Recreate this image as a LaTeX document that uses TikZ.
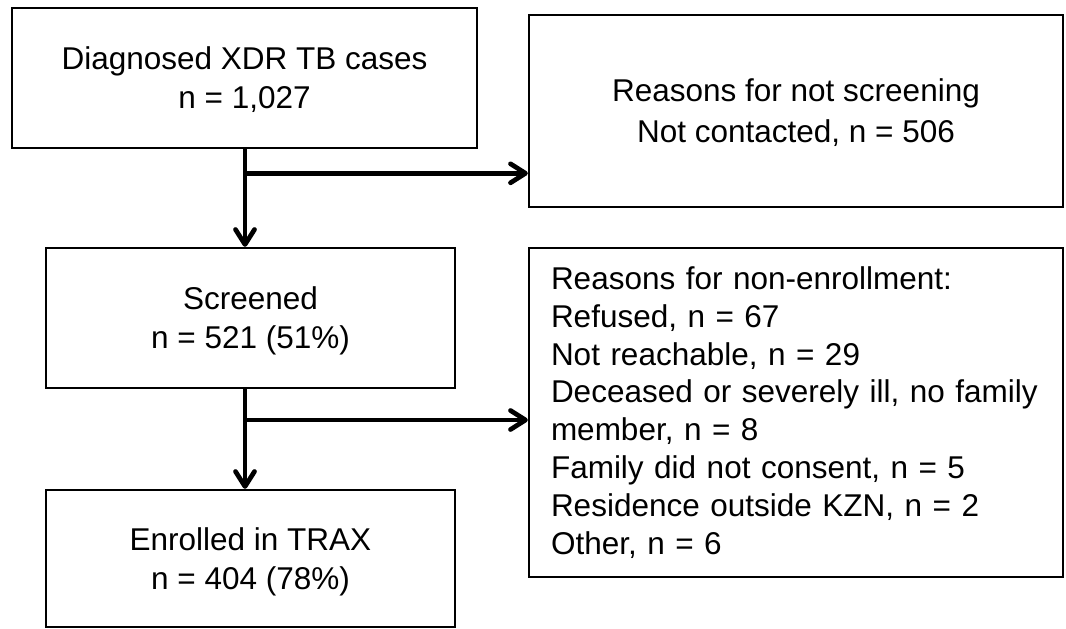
\documentclass[tikz,border=0pt]{standalone}
\usepackage{fontspec}
\setmainfont{Liberation Sans}
\usetikzlibrary{arrows.meta}
\begin{document}
\begin{tikzpicture}[x=1pt,y=-1pt,
  box/.style={draw=black, line width=2.3pt, inner sep=0pt, align=center,
    font=\fontsize{31.5}{39}\selectfont},
  ctr/.style={box, text depth=0pt},
  flow/.style={line width=4.7pt, -{Straight Barb[length=15pt,width=19pt,round]}}]
\useasboundingbox (0,0) rectangle (1066,629);
\node[ctr, minimum width=465pt, minimum height=140pt] (A) at (244.5,78)
  {Diagnosed XDR TB cases\\n = 1,027};
\node[ctr, minimum width=534pt, minimum height=192pt,
  font=\fontsize{31.5}{41}\selectfont] (B) at (796,111)
  {Reasons for not screening\\Not contacted, n = 506};
\node[ctr, minimum width=409pt, minimum height=140pt] (C) at (250.5,318)
  {Screened\\n = 521 (51\%)};
\node[box, minimum width=534pt, minimum height=329pt, text width=490pt,
  align=left, font=\fontsize{31.5}{37.9}\selectfont] (D) at (796,412.5)
  {Reasons for non-enrollment:\\Refused, n = 67\\Not reachable, n = 29\\Deceased or severely ill, no family\\member, n = 8\\Family did not consent, n = 5\\Residence outside KZN, n = 2\\Other, n = 6};
\node[ctr, minimum width=409pt, minimum height=137pt] (E) at (250.5,558.5)
  {Enrolled in TRAX\\n = 404 (78\%)};
\coordinate (j1) at (245,173.3);
\coordinate (j2) at (245,420);
\draw[flow] (A.south -| j1) -- (C.north -| j1);
\draw[flow] (j1) -- (j1 -| B.west);
\draw[flow] (C.south -| j2) -- (E.north -| j2);
\draw[flow] (j2) -- (j2 -| D.west);
\end{tikzpicture}
\end{document}
